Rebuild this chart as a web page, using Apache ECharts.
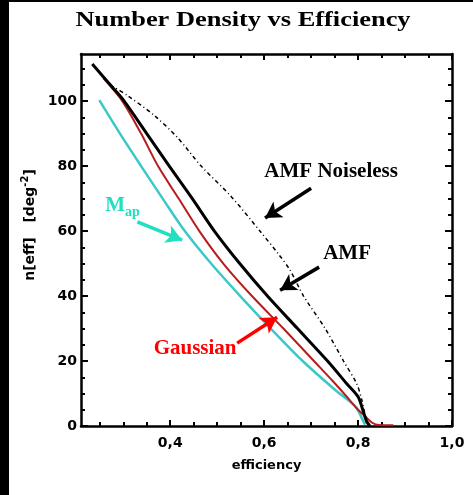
<!DOCTYPE html>
<html>
<head>
<meta charset="utf-8">
<script src="https://cdn.jsdelivr.net/npm/echarts@6.0.0/dist/echarts.min.js"></script>
<style>
html, body { margin: 0; padding: 0; background: #fff; }
#main { width: 473px; height: 495px; }
</style>
</head>
<body>
<div id="main"></div>
<script>
// efficiency, n[eff] pairs
var mapPoints = [[0.249,100.3],[0.293,90],[0.338,80],[0.384,70],[0.431,60],[0.487,50],[0.549,40],[0.614,30],[0.682,20],[0.752,11],[0.795,5.9],[0.81,1.8],[0.815,0.4]];
var gaussPoints = [[0.258,107],[0.298,100],[0.338,90],[0.374,80],[0.418,70],[0.462,60],[0.513,50],[0.574,40],[0.641,30],[0.706,20],[0.745,14],[0.776,9],[0.80,5],[0.815,3],[0.83,1],[0.845,0.3],[0.875,0.2]];
var amfPoints = [[0.234,111.4],[0.276,104.4],[0.302,100],[0.35,90],[0.398,80],[0.447,70],[0.494,60],[0.548,50],[0.607,40],[0.671,30],[0.735,20],[0.776,13],[0.80,9],[0.811,4.5],[0.818,1.5],[0.825,0]];
var noiselessPoints = [[0.272,105],[0.308,101.8],[0.365,95.7],[0.414,89],[0.466,80],[0.53,70.6],[0.591,60],[0.63,53],[0.655,48],[0.684,40],[0.73,30],[0.769,20],[0.797,13],[0.808,8],[0.818,1]];

var xMajorTicks = [0.4, 0.6, 0.8, 1.0];
var xMinorTicks = [0.25, 0.3, 0.35, 0.45, 0.5, 0.55, 0.65, 0.7, 0.75, 0.85, 0.9, 0.95];
var yMajorTicks = [0, 20, 40, 60, 80, 100];
var yMinorTicks = [5, 10, 15, 25, 30, 35, 45, 50, 55, 65, 70, 75, 85, 90, 95, 105, 110];

// annotation arrows: [from, to] in data units
var noiselessArrow = [[0.70, 73.2], [0.602, 64.0]];
var amfArrow = [[0.717, 48.9], [0.634, 41.8]];
var mapArrow = [[0.330, 62.8], [0.4255, 57.2]];
var gaussArrow = [[0.5426, 25.5], [0.6277, 33.5]];

var chart = echarts.init(document.getElementById('main'));

var serif = '"Liberation Serif", "Times New Roman", serif';
var sans = '"DejaVu Sans", sans-serif';
var grid = { left: 81, right: 21, top: 54, bottom: 69 };

function xAx(gridIndex, pos, ticks, len, labels) {
	return {
		type: 'value', gridIndex: gridIndex, position: pos, min: 0.21, max: 1.0,
		axisLine: { show: gridIndex === 0, onZero: false, lineStyle: { color: '#000', width: 2.5 } },
		axisTick: { show: true, inside: true, length: len, customValues: ticks, lineStyle: { color: '#000', width: 2 } },
		axisLabel: labels ? {
			show: true, customValues: xMajorTicks, margin: 10, color: '#000',
			fontFamily: sans, fontWeight: 'bold', fontSize: 14,
			formatter: function (v) { return v.toFixed(1).replace('.', ','); }
		} : { show: false },
		splitLine: { show: false },
		name: labels ? 'efficiency' : '',
		nameLocation: 'middle', nameGap: 33,
		nameTextStyle: { color: '#000', fontFamily: sans, fontWeight: 'bold', fontSize: 13 }
	};
}
function yAx(gridIndex, pos, ticks, len, labels) {
	return {
		type: 'value', gridIndex: gridIndex, position: pos, min: 0, max: 114.5,
		axisLine: { show: gridIndex === 0, onZero: false, lineStyle: { color: '#000', width: 2.5 } },
		axisTick: { show: true, inside: true, length: len, customValues: ticks, lineStyle: { color: '#000', width: 2 } },
		axisLabel: labels ? {
			show: true, customValues: yMajorTicks, margin: 4, color: '#000',
			fontFamily: sans, fontWeight: 'bold', fontSize: 14
		} : { show: false },
		splitLine: { show: false }
	};
}

function arrow(pts, color) {
	return [
		{ coord: pts[0], lineStyle: { color: color, width: 3.5, type: 'solid' } },
		{ coord: pts[1] }
	];
}
function tag(coord, text, color, extra) {
	var lbl = {
		show: true, position: 'inside', formatter: text, color: color,
		fontFamily: serif, fontWeight: 'bold', fontSize: 21
	};
	if (extra) { for (var k in extra) lbl[k] = extra[k]; }
	return { coord: coord, symbol: 'circle', symbolSize: 0, label: lbl };
}
function marks(arrows, tags) {
	return {
		markLine: {
			silent: true, symbol: ['none', 'arrow'], symbolSize: [14, 16],
			label: { show: false }, data: arrows, animation: false
		},
		markPoint: { silent: true, data: tags, animation: false }
	};
}

var sMap = {
	type: 'line', name: 'Map', data: mapPoints, showSymbol: false, symbol: 'none', smooth: 0.3,
	lineStyle: { color: '#3cc8c8', width: 2.5 }, z: 2
};
var sGauss = {
	type: 'line', name: 'Gaussian', data: gaussPoints, showSymbol: false, symbol: 'none', smooth: 0.3,
	lineStyle: { color: '#b81c1c', width: 2 }, z: 3
};
var sAmf = {
	type: 'line', name: 'AMF', data: amfPoints, showSymbol: false, symbol: 'none', smooth: 0.3,
	lineStyle: { color: '#000', width: 3 }, z: 4
};
var sNoise = {
	type: 'line', name: 'AMF Noiseless', data: noiselessPoints, showSymbol: false, symbol: 'none', smooth: 0.3,
	lineStyle: { color: '#000', width: 1.5, type: [4, 3, 1, 3] }, z: 4
};

var m1 = marks([arrow(mapArrow, '#1fe0c0')], [
	tag([0.2617, 67.7], '{m|M}{s|ap}', '#1fe0c0', {
		position: 'right', distance: 0,
		rich: {
			m: { fontFamily: serif, fontWeight: 'bold', fontSize: 21, color: '#1fe0c0' },
			s: { fontFamily: serif, fontWeight: 'bold', fontSize: 14, color: '#1fe0c0', padding: [12, 0, 0, 0] }
		}
	})
]);
sMap.markLine = m1.markLine; sMap.markPoint = m1.markPoint;
var m2 = marks([arrow(gaussArrow, '#ff0000')], [tag([0.453, 23.7], 'Gaussian', '#ff0000')]);
sGauss.markLine = m2.markLine; sGauss.markPoint = m2.markPoint;
var m3 = marks([arrow(amfArrow, '#000')], [tag([0.7766, 53.2], 'AMF', '#000')]);
sAmf.markLine = m3.markLine; sAmf.markPoint = m3.markPoint;
var m4 = marks([arrow(noiselessArrow, '#000')], [tag([0.7426, 78.2], 'AMF Noiseless', '#000')]);
sNoise.markLine = m4.markLine; sNoise.markPoint = m4.markPoint;

var option = {
	backgroundColor: '#fff',
	animation: false,
	grid: [
		{ left: grid.left, right: grid.right, top: grid.top, bottom: grid.bottom },
		{ left: grid.left, right: grid.right, top: grid.top, bottom: grid.bottom }
	],
	xAxis: [
		xAx(0, 'bottom', xMajorTicks, 6, true),
		xAx(0, 'top', xMajorTicks, 6, false),
		xAx(1, 'bottom', xMinorTicks, 4, false),
		xAx(1, 'top', xMinorTicks, 4, false)
	],
	yAxis: [
		yAx(0, 'left', yMajorTicks, 7, true),
		yAx(0, 'right', yMajorTicks, 7, false),
		yAx(1, 'left', yMinorTicks, 4, false),
		yAx(1, 'right', yMinorTicks, 4, false)
	],
	graphic: [
		{ type: 'rect', left: 0, top: 0, shape: { width: 9, height: 495 }, style: { fill: '#000' }, z: 100 },
		{ type: 'rect', left: 0, top: 0, shape: { width: 473, height: 2 }, style: { fill: '#000' }, z: 100 },
		{
			type: 'text', x: 243, y: 20, scaleX: 1.2, z: 100,
			style: {
				text: 'Number Density vs Efficiency', fill: '#000',
				font: 'bold 22px ' + serif, textAlign: 'center', textVerticalAlign: 'middle'
			}
		},
		{
			type: 'text', x: 30, y: 225, rotation: Math.PI / 2, z: 100,
			style: {
				text: '{a|n[eff]   [deg}{b|-2}{a|]}', textAlign: 'center', textVerticalAlign: 'middle',
				rich: {
					a: { fontFamily: sans, fontWeight: 'bold', fontSize: 14, fill: '#000', color: '#000' },
					b: { fontFamily: sans, fontWeight: 'bold', fontSize: 10, fill: '#000', color: '#000', padding: [0, 0, 9, 0] }
				}
			}
		}
	],
	series: [sMap, sGauss, sAmf, sNoise]
};
chart.setOption(option);
</script>
</body>
</html>
